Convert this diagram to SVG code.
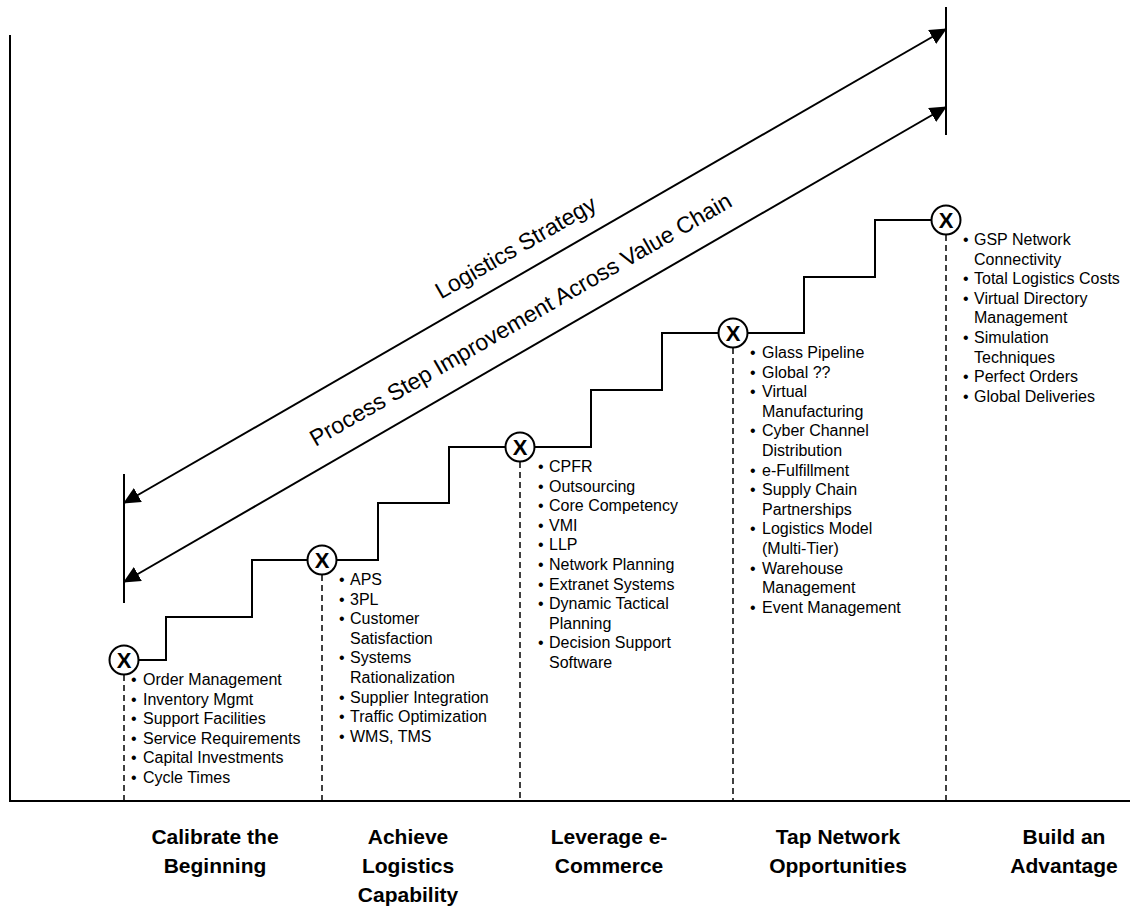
<svg xmlns="http://www.w3.org/2000/svg" width="1130" height="909" viewBox="0 0 1130 909">
<style>
  text { font-family: "Liberation Sans", Arial, sans-serif; fill: #000; }
  .li { font-size: 16px; }
  .x { font-size: 22px; font-weight: bold; text-anchor: middle; }
  .lbl { font-size: 21px; font-weight: bold; text-anchor: middle; }
  .big { font-size: 23px; text-anchor: middle; }
  .ln { fill: none; stroke: #000; stroke-width: 2; }
  .dash { fill: none; stroke: #000; stroke-width: 1.5; stroke-dasharray: 6 4; }
  .node circle { fill: #fff; stroke: #000; stroke-width: 2; }
</style>
<defs>
  <marker id="ah" markerUnits="userSpaceOnUse" viewBox="0 0 17 16" markerWidth="17" markerHeight="16" refX="16" refY="8" orient="auto-start-reverse">
    <path d="M0,0 L17,8 L0,16 z" fill="#000"/>
  </marker>
</defs>
<rect width="1130" height="909" fill="#fff"/>

<!-- axes -->
<path class="ln" d="M10,35 V801 H1130"/>

<g id="connectors">
  <path class="ln" d="M124,660 H166 V617 H252 V560 H378 V503 H449 V447 H591 V390 H662 V333 H804 V277 H875 V220 H946"/>
  <line class="ln" x1="124" y1="474" x2="124" y2="603"/>
  <line class="ln" x1="946" y1="7" x2="946" y2="135"/>
  <line class="ln" x1="124" y1="503" x2="946" y2="29" marker-start="url(#ah)" marker-end="url(#ah)"/>
  <line class="ln" x1="124" y1="582" x2="946" y2="107" marker-start="url(#ah)" marker-end="url(#ah)"/>
  <line class="dash" x1="124" y1="675" x2="124" y2="801"/>
  <line class="dash" x1="322" y1="575" x2="322" y2="801"/>
  <line class="dash" x1="520" y1="462" x2="520" y2="801"/>
  <line class="dash" x1="733" y1="348" x2="733" y2="801"/>
  <line class="dash" x1="946" y1="235" x2="946" y2="801"/>
</g>

<g transform="translate(528.5,269.8) rotate(-30)"><text class="big" x="0" y="-18">Logistics Strategy</text></g>
<g transform="translate(535,344.5) rotate(-30)"><text class="big" x="0" y="-21">Process Step Improvement Across Value Chain</text></g>

<g id="node1" class="node">
  <circle cx="124" cy="660" r="14.5"/>
  <text class="x" x="124" y="668">X</text>
  <text class="li"><tspan x="131" y="685">•</tspan><tspan x="143" y="685">Order Management</tspan></text>
  <text class="li"><tspan x="131" y="704.6">•</tspan><tspan x="143" y="704.6">Inventory Mgmt</tspan></text>
  <text class="li"><tspan x="131" y="724.2">•</tspan><tspan x="143" y="724.2">Support Facilities</tspan></text>
  <text class="li"><tspan x="131" y="743.8">•</tspan><tspan x="143" y="743.8">Service Requirements</tspan></text>
  <text class="li"><tspan x="131" y="763.4">•</tspan><tspan x="143" y="763.4">Capital Investments</tspan></text>
  <text class="li"><tspan x="131" y="783">•</tspan><tspan x="143" y="783">Cycle Times</tspan></text>
</g>

<g id="node2" class="node">
  <circle cx="322" cy="560" r="14.5"/>
  <text class="x" x="322" y="568">X</text>
  <text class="li"><tspan x="339" y="585">•</tspan><tspan x="350" y="585">APS</tspan></text>
  <text class="li"><tspan x="339" y="604.6">•</tspan><tspan x="350" y="604.6">3PL</tspan></text>
  <text class="li"><tspan x="339" y="624.2">•</tspan><tspan x="350" y="624.2">Customer</tspan></text>
  <text class="li" x="350" y="643.8">Satisfaction</text>
  <text class="li"><tspan x="339" y="663.4">•</tspan><tspan x="350" y="663.4">Systems</tspan></text>
  <text class="li" x="350" y="683">Rationalization</text>
  <text class="li"><tspan x="339" y="702.6">•</tspan><tspan x="350" y="702.6">Supplier Integration</tspan></text>
  <text class="li"><tspan x="339" y="722.2">•</tspan><tspan x="350" y="722.2">Traffic Optimization</tspan></text>
  <text class="li"><tspan x="339" y="741.8">•</tspan><tspan x="350" y="741.8">WMS, TMS</tspan></text>
</g>

<g id="node3" class="node">
  <circle cx="520" cy="447" r="14.5"/>
  <text class="x" x="520" y="455">X</text>
  <text class="li"><tspan x="538" y="472">•</tspan><tspan x="549" y="472">CPFR</tspan></text>
  <text class="li"><tspan x="538" y="491.6">•</tspan><tspan x="549" y="491.6">Outsourcing</tspan></text>
  <text class="li"><tspan x="538" y="511.2">•</tspan><tspan x="549" y="511.2">Core Competency</tspan></text>
  <text class="li"><tspan x="538" y="530.8">•</tspan><tspan x="549" y="530.8">VMI</tspan></text>
  <text class="li"><tspan x="538" y="550.4">•</tspan><tspan x="549" y="550.4">LLP</tspan></text>
  <text class="li"><tspan x="538" y="570">•</tspan><tspan x="549" y="570">Network Planning</tspan></text>
  <text class="li"><tspan x="538" y="589.6">•</tspan><tspan x="549" y="589.6">Extranet Systems</tspan></text>
  <text class="li"><tspan x="538" y="609.2">•</tspan><tspan x="549" y="609.2">Dynamic Tactical</tspan></text>
  <text class="li" x="549" y="628.8">Planning</text>
  <text class="li"><tspan x="538" y="648.4">•</tspan><tspan x="549" y="648.4">Decision Support</tspan></text>
  <text class="li" x="549" y="668">Software</text>
</g>

<g id="node4" class="node">
  <circle cx="733" cy="333" r="14.5"/>
  <text class="x" x="733" y="341">X</text>
  <text class="li"><tspan x="750" y="358">•</tspan><tspan x="762" y="358">Glass Pipeline</tspan></text>
  <text class="li"><tspan x="750" y="377.6">•</tspan><tspan x="762" y="377.6">Global ??</tspan></text>
  <text class="li"><tspan x="750" y="397.2">•</tspan><tspan x="762" y="397.2">Virtual</tspan></text>
  <text class="li" x="762" y="416.8">Manufacturing</text>
  <text class="li"><tspan x="750" y="436.4">•</tspan><tspan x="762" y="436.4">Cyber Channel</tspan></text>
  <text class="li" x="762" y="456">Distribution</text>
  <text class="li"><tspan x="750" y="475.6">•</tspan><tspan x="762" y="475.6">e-Fulfillment</tspan></text>
  <text class="li"><tspan x="750" y="495.2">•</tspan><tspan x="762" y="495.2">Supply Chain</tspan></text>
  <text class="li" x="762" y="514.8">Partnerships</text>
  <text class="li"><tspan x="750" y="534.4">•</tspan><tspan x="762" y="534.4">Logistics Model</tspan></text>
  <text class="li" x="762" y="554">(Multi-Tier)</text>
  <text class="li"><tspan x="750" y="573.6">•</tspan><tspan x="762" y="573.6">Warehouse</tspan></text>
  <text class="li" x="762" y="593.2">Management</text>
  <text class="li"><tspan x="750" y="612.8">•</tspan><tspan x="762" y="612.8">Event Management</tspan></text>
</g>

<g id="node5" class="node">
  <circle cx="946" cy="220" r="14.5"/>
  <text class="x" x="946" y="228">X</text>
  <text class="li"><tspan x="963" y="245">•</tspan><tspan x="974" y="245">GSP Network</tspan></text>
  <text class="li" x="974" y="264.6">Connectivity</text>
  <text class="li"><tspan x="963" y="284.2">•</tspan><tspan x="974" y="284.2">Total Logistics Costs</tspan></text>
  <text class="li"><tspan x="963" y="303.8">•</tspan><tspan x="974" y="303.8">Virtual Directory</tspan></text>
  <text class="li" x="974" y="323.4">Management</text>
  <text class="li"><tspan x="963" y="343">•</tspan><tspan x="974" y="343">Simulation</tspan></text>
  <text class="li" x="974" y="362.6">Techniques</text>
  <text class="li"><tspan x="963" y="382.2">•</tspan><tspan x="974" y="382.2">Perfect Orders</tspan></text>
  <text class="li"><tspan x="963" y="401.8">•</tspan><tspan x="974" y="401.8">Global Deliveries</tspan></text>
</g>

<g id="labels">
  <text class="lbl" x="215" y="844">Calibrate the</text>
  <text class="lbl" x="215" y="873">Beginning</text>
  <text class="lbl" x="408" y="844">Achieve</text>
  <text class="lbl" x="408" y="873">Logistics</text>
  <text class="lbl" x="408" y="902">Capability</text>
  <text class="lbl" x="609" y="844">Leverage e-</text>
  <text class="lbl" x="609" y="873">Commerce</text>
  <text class="lbl" x="838" y="844">Tap Network</text>
  <text class="lbl" x="838" y="873">Opportunities</text>
  <text class="lbl" x="1064" y="844">Build an</text>
  <text class="lbl" x="1064" y="873">Advantage</text>
</g>
</svg>
